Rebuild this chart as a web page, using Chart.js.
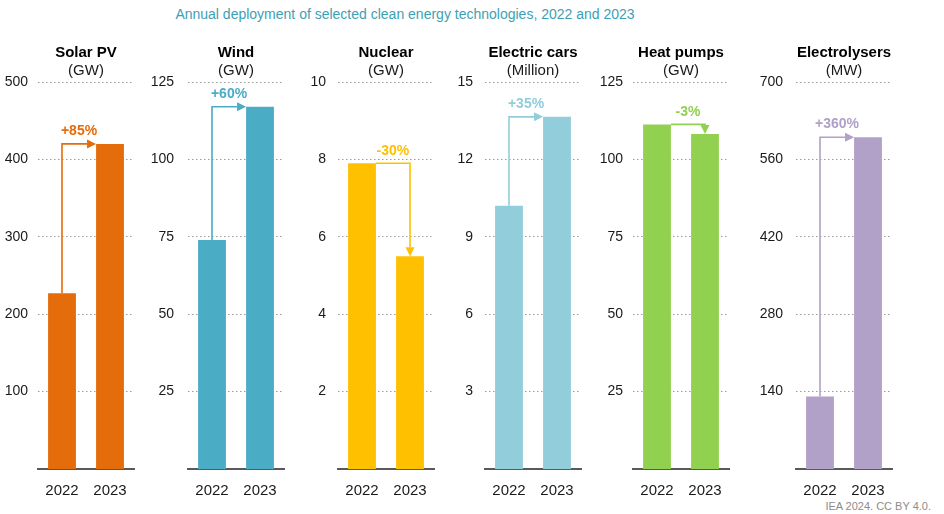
<!DOCTYPE html>
<html>
<head>
<meta charset="utf-8">
<script src="https://cdn.jsdelivr.net/npm/chart.js@4.4.1/dist/chart.umd.min.js"></script>
<style>
  html, body { margin: 0; padding: 0; background: #fff; }
  #wrap { position: relative; width: 944px; height: 514px; overflow: hidden; font-family: "Liberation Sans", Arial, sans-serif; }
  #title { position: absolute; left: 0; width: 810px; top: 6px; text-align: center; font-size: 14px; color: #3d9fb3; }
  #source { position: absolute; right: 13px; top: 500px; font-size: 11px; color: #8c8c8c; }
  .panel { position: absolute; top: 0; }
</style>
</head>
<body>
<div id="wrap">
  <div id="title">Annual deployment of selected clean energy technologies, 2022 and 2023</div>
  <div id="source">IEA 2024. CC BY 4.0.</div>
</div>
<script>
'use strict';

// Dữ liệu
const years = ["2022", "2023"];
const techNames = ["Solar PV", "Wind", "Nuclear", "Electric cars", "Heat pumps", "Electrolysers"];
const techUnits = ["(GW)", "(GW)", "(GW)", "(Million)", "(GW)", "(MW)"];
const values2022 = [227, 74, 7.9, 10.2, 111.3, 131];
const values2023 = [420, 117, 5.5, 13.65, 108.2, 600];
const changeLabels = ["+85%", "+60%", "-30%", "+35%", "-3%", "+360%"];
const axisMax = [500, 125, 10, 15, 125, 700];
const axisStep = [100, 25, 2, 3, 25, 140];

// Bố cục và màu sắc
const colors = ["#e46c0a", "#4bacc6", "#ffc000", "#92cddc", "#92d050", "#b1a0c7"];
const plotLeft = [38, 188, 338, 485, 633, 796];
const tickPad = [10, 14, 12, 12, 10, 13];
const Y_AXIS_W = 50;
const PLOT_W = 96;
const RIGHT_PAD = 4;

Chart.defaults.font.family = "'Liberation Sans', Arial, sans-serif";
Chart.defaults.color = "#1a1a1a";

// Vẽ tiêu đề từng ô và mũi tên thay đổi
const panelDecor = {
  id: "panelDecor",
  afterDatasetsDraw(chart, args, opts) {
    const { ctx, chartArea } = chart;
    const bars = chart.getDatasetMeta(0).data;
    if (bars.length < 2) return;
    const b0 = bars[0], b1 = bars[1];
    const color = opts.color;
    const head = 9, half = 4.5;

    ctx.save();
    ctx.strokeStyle = color;
    ctx.fillStyle = color;
    ctx.lineWidth = 1.6;
    ctx.beginPath();
    let labelX, labelY;
    if (b1.y <= b0.y) {
      // tăng: đi lên từ giữa cột 1, sang phải tới cột 2
      const xEnd = b1.x - b1.width / 2;
      ctx.moveTo(b0.x, b0.y);
      ctx.lineTo(b0.x, b1.y);
      ctx.lineTo(xEnd - head, b1.y);
      ctx.stroke();
      ctx.beginPath();
      ctx.moveTo(xEnd, b1.y);
      ctx.lineTo(xEnd - head, b1.y - half);
      ctx.lineTo(xEnd - head, b1.y + half);
      ctx.closePath();
      ctx.fill();
      labelX = (b0.x + xEnd) / 2;
      labelY = b1.y - 13;
    } else {
      // giảm: đi ngang từ mép phải cột 1, xuống cột 2
      const xStart = b0.x + b0.width / 2;
      ctx.moveTo(xStart, b0.y);
      ctx.lineTo(b1.x, b0.y);
      ctx.lineTo(b1.x, b1.y - head);
      ctx.stroke();
      ctx.beginPath();
      ctx.moveTo(b1.x, b1.y);
      ctx.lineTo(b1.x - half, b1.y - head);
      ctx.lineTo(b1.x + half, b1.y - head);
      ctx.closePath();
      ctx.fill();
      labelX = (xStart + b1.x) / 2;
      labelY = b0.y - 12;
    }
    ctx.font = "bold 14px 'Liberation Sans', Arial, sans-serif";
    ctx.textAlign = "center";
    ctx.textBaseline = "middle";
    ctx.fillText(opts.change, labelX, labelY);

    // tiêu đề ô
    const cx = (chartArea.left + chartArea.right) / 2;
    ctx.fillStyle = "#000";
    ctx.font = "bold 15px 'Liberation Sans', Arial, sans-serif";
    ctx.fillText(opts.name, cx, 53);
    ctx.font = "15px 'Liberation Sans', Arial, sans-serif";
    ctx.fillStyle = "#1a1a1a";
    ctx.fillText(opts.unit, cx, 71);
    ctx.restore();
  },
};

const createPanel = (i) => {
  const wrap = document.getElementById("wrap");
  const div = document.createElement("div");
  div.className = "panel";
  const width = Y_AXIS_W + PLOT_W + RIGHT_PAD;
  div.style.left = (plotLeft[i] - Y_AXIS_W) + "px";
  div.style.width = width + "px";
  div.style.height = "514px";
  const canvas = document.createElement("canvas");
  canvas.width = width;
  canvas.height = 514;
  canvas.style.width = width + "px";
  canvas.style.height = "514px";
  div.appendChild(canvas);
  wrap.appendChild(div);

  return new Chart(canvas, {
    type: "bar",
    data: {
      labels: years,
      datasets: [
        {
          data: [values2022[i], values2023[i]],
          backgroundColor: colors[i],
          borderWidth: 0,
          categoryPercentage: 1,
          barPercentage: 0.58,
        },
      ],
    },
    options: {
      responsive: false,
      animation: false,
      layout: { padding: { top: 82, bottom: 0, left: 0, right: RIGHT_PAD } },
      plugins: {
        legend: { display: false },
        tooltip: { enabled: false },
        panelDecor: { color: colors[i], change: changeLabels[i], name: techNames[i], unit: techUnits[i] },
      },
      scales: {
        x: {
          grid: { display: false },
          border: { display: true, color: "#595959", width: 2 },
          ticks: { padding: 5, font: { size: 15 }, color: "#1a1a1a" },
          afterFit: (s) => { s.height = 45; },
        },
        y: {
          min: 0,
          max: axisMax[i],
          border: { display: false, dash: [1.5, 2.5] },
          grid: { color: "#9a9a9a", lineWidth: 1, drawTicks: false },
          ticks: {
            stepSize: axisStep[i],
            padding: tickPad[i],
            font: { size: 14 },
            color: "#1a1a1a",
            callback: (v) => (v === 0 ? null : v),
          },
          afterFit: (s) => { s.width = Y_AXIS_W; },
        },
      },
    },
    plugins: [panelDecor],
  });
};

document.addEventListener("DOMContentLoaded", () => {
  techNames.forEach((name, i) => createPanel(i));
});
</script>
</body>
</html>
